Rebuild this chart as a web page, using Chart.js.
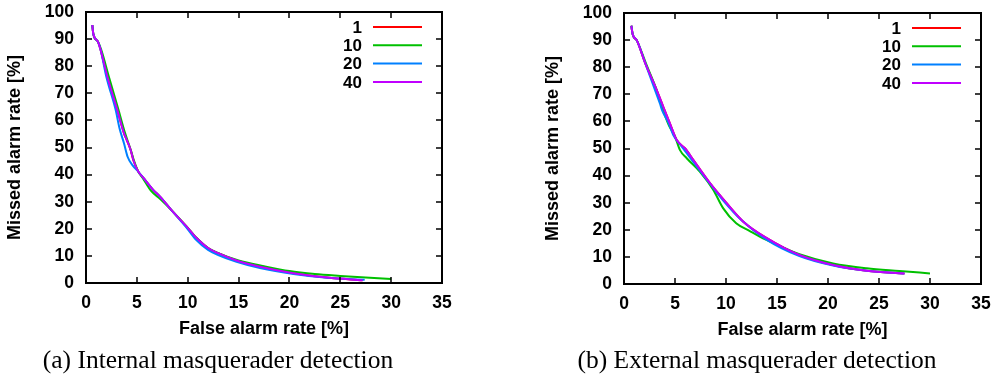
<!DOCTYPE html>
<html>
<head>
<meta charset="utf-8">
<script src="https://cdn.jsdelivr.net/npm/chart.js@4.4.1/dist/chart.umd.min.js"></script>
<style>
  html, body { margin: 0; padding: 0; background: #fff; }
  #wrap { position: relative; width: 1000px; height: 378px; overflow: hidden; background: #fff; }
  canvas { position: absolute; top: 0; }
  .cap { position: absolute; top: 347px; width: 400px; text-align: center;
         font-family: "Liberation Serif", "Times New Roman", serif; font-size: 25.5px; line-height: 25px; color: #000; white-space: nowrap; }
</style>
</head>
<body>
<div id="wrap">
  <canvas id="c1" width="500" height="378" style="left:0px"></canvas>
  <canvas id="c2" width="500" height="378" style="left:500px"></canvas>
  <div class="cap" style="left:18px">(a) Internal masquerader detection</div>
  <div class="cap" style="left:557px">(b) External masquerader detection</div>
</div>
<script>
// ---------- data ----------
const seriesLabels = ['1', '10', '20', '40'];
const seriesColors = ['#ff0000', '#00c000', '#0080ff', '#c000ff'];
const xTickMax = 35, yTickMax = 100;

// (a) Internal masquerader detection : false alarm rate [%] / missed alarm rate [%]
const int1_fa  = [0.62, 0.72, 1.18, 1.44, 2.1, 3.08, 3.74, 4.0, 4.39, 4.65, 5.14, 5.6, 6.62, 7.3, 8.4, 9.9, 10.9, 12.0, 13.0, 14.8, 17.1, 20.4, 23.7, 27.2];
const int1_ma  = [95.2, 91.9, 89.0, 86.0, 76.1, 63.8, 55.2, 52.8, 49.1, 45.4, 41.1, 39.0, 34.3, 31.8, 26.9, 20.8, 16.5, 12.9, 11.0, 8.3, 6.0, 3.6, 2.0, 1.0];
const int10_fa = [0.62, 0.72, 1.18, 1.5, 2.25, 3.2, 3.85, 4.4, 4.7, 5.14, 5.6, 6.4, 7.3, 8.4, 9.9, 10.9, 12.0, 13.0, 15.0, 17.5, 20.0, 22.5, 25.0, 27.5, 30.0];
const int10_ma = [95.2, 91.9, 89.0, 86.0, 76.1, 63.8, 55.2, 49.1, 45.4, 41.1, 38.6, 34.0, 31.0, 26.9, 20.8, 16.5, 12.9, 11.0, 8.3, 6.2, 4.4, 3.3, 2.6, 2.0, 1.5];
const int20_fa = [0.62, 0.72, 1.18, 1.44, 2.0, 2.92, 3.3, 3.74, 4.1, 4.6, 5.14, 5.6, 6.62, 7.3, 8.4, 9.8, 10.8, 12.0, 13.0, 14.8, 17.1, 20.4, 23.7, 27.4];
const int20_ma = [95.2, 91.9, 89.0, 86.0, 76.1, 63.8, 57.0, 51.5, 46.5, 43.3, 41.1, 39.0, 34.3, 31.8, 26.9, 20.8, 16.0, 12.2, 10.3, 7.8, 5.5, 3.3, 1.9, 1.2];
const int40_fa = [0.62, 0.72, 1.18, 1.44, 2.1, 3.08, 3.74, 4.0, 4.39, 4.65, 5.14, 5.6, 6.62, 7.3, 8.4, 9.9, 10.9, 12.0, 13.0, 14.8, 17.1, 20.4, 23.7, 27.2];
const int40_ma = [95.2, 91.9, 89.0, 86.0, 76.1, 63.8, 55.2, 52.8, 49.1, 45.4, 41.1, 39.0, 34.3, 31.8, 26.9, 20.8, 16.5, 12.9, 11.0, 8.3, 6.0, 3.6, 2.0, 1.0];

// (b) External masquerader detection
const ext1_fa  = [0.72, 0.85, 1.27, 2.09, 3.07, 3.85, 4.5, 5.17, 6.0, 6.79, 8.43, 10.07, 11.7, 14.0, 17.2, 20.5, 23.8, 27.5];
const ext1_ma  = [95.3, 92.2, 89.8, 81.4, 72.8, 65.4, 59.3, 53.1, 50.0, 45.8, 37.2, 29.8, 23.0, 16.9, 10.7, 7.0, 4.9, 3.9];
const ext10_fa = [0.72, 0.85, 1.27, 2.15, 3.15, 3.7, 4.4, 5.0, 5.49, 6.15, 7.45, 8.76, 9.73, 11.0, 12.3, 13.3, 15.0, 17.2, 20.5, 23.8, 27.0, 30.0];
const ext10_ma = [95.3, 92.2, 89.8, 81.4, 72.0, 65.5, 58.5, 54.4, 49.4, 46.4, 41.4, 34.7, 27.9, 22.4, 19.6, 17.5, 14.5, 11.0, 7.6, 5.8, 4.8, 3.9];
const ext20_fa = [0.72, 0.85, 1.27, 2.09, 3.0, 3.53, 3.73, 4.38, 4.83, 5.5, 6.79, 8.43, 9.73, 11.5, 14.0, 17.2, 20.5, 23.8, 27.5];
const ext20_ma = [95.3, 92.2, 89.8, 81.4, 72.0, 66.5, 64.2, 59.3, 55.0, 51.5, 45.1, 37.0, 30.8, 23.6, 16.3, 10.3, 6.8, 4.9, 3.9];
const ext40_fa = [0.72, 0.85, 1.27, 2.09, 3.07, 3.85, 4.5, 5.17, 6.0, 6.79, 8.43, 10.07, 11.7, 14.0, 17.2, 20.5, 23.8, 27.5];
const ext40_ma = [95.3, 92.2, 89.8, 81.4, 72.8, 65.4, 59.3, 53.1, 50.0, 45.8, 37.2, 29.8, 23.0, 16.9, 10.7, 7.0, 4.9, 3.9];

const xTitle = 'False alarm rate [%]';
const yTitle = 'Missed alarm rate [%]';

// ---------- helpers ----------
const pts = (xs, ys) => xs.map((x, i) => ({ x: x, y: ys[i] }));

const framePlugin = {
  id: 'frame',
  afterDatasetsDraw(chart) {
    const { ctx, chartArea: a, scales } = chart;
    const xs = scales.x, ys = scales.y;
    ctx.save();
    ctx.strokeStyle = '#000';
    ctx.lineWidth = 2;
    ctx.strokeRect(a.left, a.top, a.right - a.left, a.bottom - a.top);
    ctx.lineWidth = 1.5;
    const L = 6;
    ctx.beginPath();
    xs.ticks.forEach(t => {
      const p = Math.round(xs.getPixelForValue(t.value));
      ctx.moveTo(p, a.bottom); ctx.lineTo(p, a.bottom - L);
      ctx.moveTo(p, a.top); ctx.lineTo(p, a.top + L);
    });
    ys.ticks.forEach(t => {
      const p = Math.round(ys.getPixelForValue(t.value));
      ctx.moveTo(a.left, p); ctx.lineTo(a.left + L, p);
      ctx.moveTo(a.right, p); ctx.lineTo(a.right - L, p);
    });
    ctx.stroke();
    // legend (gnuplot style, inside top right)
    ctx.font = 'bold 17px "Liberation Sans", Arial, sans-serif';
    ctx.textAlign = 'right';
    ctx.textBaseline = 'middle';
    chart.data.datasets.forEach((ds, i) => {
      const yy = a.top + 15 + i * 18.3;
      ctx.fillStyle = '#000';
      ctx.fillText(ds.label, a.right - 80, yy + 1);
      ctx.strokeStyle = ds.borderColor;
      ctx.lineWidth = 2;
      ctx.beginPath();
      ctx.moveTo(a.right - 69, yy); ctx.lineTo(a.right - 20, yy);
      ctx.stroke();
    });
    ctx.restore();
  }
};

function makeChart(id, series, cfg) {
  const datasets = series.map((s, i) => ({
    label: seriesLabels[i],
    data: pts(s[0], s[1]),
    borderColor: seriesColors[i],
    backgroundColor: seriesColors[i],
    borderWidth: 2,
    pointRadius: 0,
    fill: false,
    cubicInterpolationMode: 'monotone',
    order: series.length - i
  }));
  const tickFont = { family: '"Liberation Sans", Arial, sans-serif', size: 17.5, weight: 'bold' };
  const titleFont = { family: '"Liberation Sans", Arial, sans-serif', size: 18, weight: 'bold' };
  return new Chart(document.getElementById(id), {
    type: 'line',
    data: { datasets },
    options: {
      responsive: false,
      animation: false,
      devicePixelRatio: 1,
      layout: { padding: { left: 0, top: cfg.top, right: cfg.right, bottom: 0 } },
      plugins: { legend: { display: false }, tooltip: { enabled: false } },
      scales: {
        x: {
          type: 'linear', min: 0, max: xTickMax,
          afterFit(s) { s.height = cfg.xh; s.paddingLeft = 0; s.paddingRight = 0; },
          grid: { display: false, drawTicks: false },
          border: { display: false },
          ticks: { stepSize: 5, color: '#000', font: tickFont, padding: 10, maxRotation: 0 },
          title: { display: true, text: xTitle, color: '#000', font: titleFont, padding: { top: 0, bottom: cfg.xtp } }
        },
        y: {
          type: 'linear', min: 0, max: yTickMax,
          afterFit(s) { s.width = cfg.yw; s.paddingTop = 0; s.paddingBottom = 0; },
          grid: { display: false, drawTicks: false },
          border: { display: false },
          ticks: { stepSize: 10, color: '#000', font: tickFont, padding: 12 },
          title: { display: true, text: yTitle, color: '#000', font: titleFont, padding: { top: cfg.ytp, bottom: 0 } }
        }
      }
    },
    plugins: [framePlugin]
  });
}

makeChart('c1', [[int1_fa, int1_ma], [int10_fa, int10_ma], [int20_fa, int20_ma], [int40_fa, int40_ma]],
  { top: 12, right: 58, xh: 95, yw: 86, xtp: 38.2, ytp: 4.2 });
makeChart('c2', [[ext1_fa, ext1_ma], [ext10_fa, ext10_ma], [ext20_fa, ext20_ma], [ext40_fa, ext40_ma]],
  { top: 13, right: 19, xh: 94, yw: 124, xtp: 37.2, ytp: 42.2 });
</script>
</body>
</html>
